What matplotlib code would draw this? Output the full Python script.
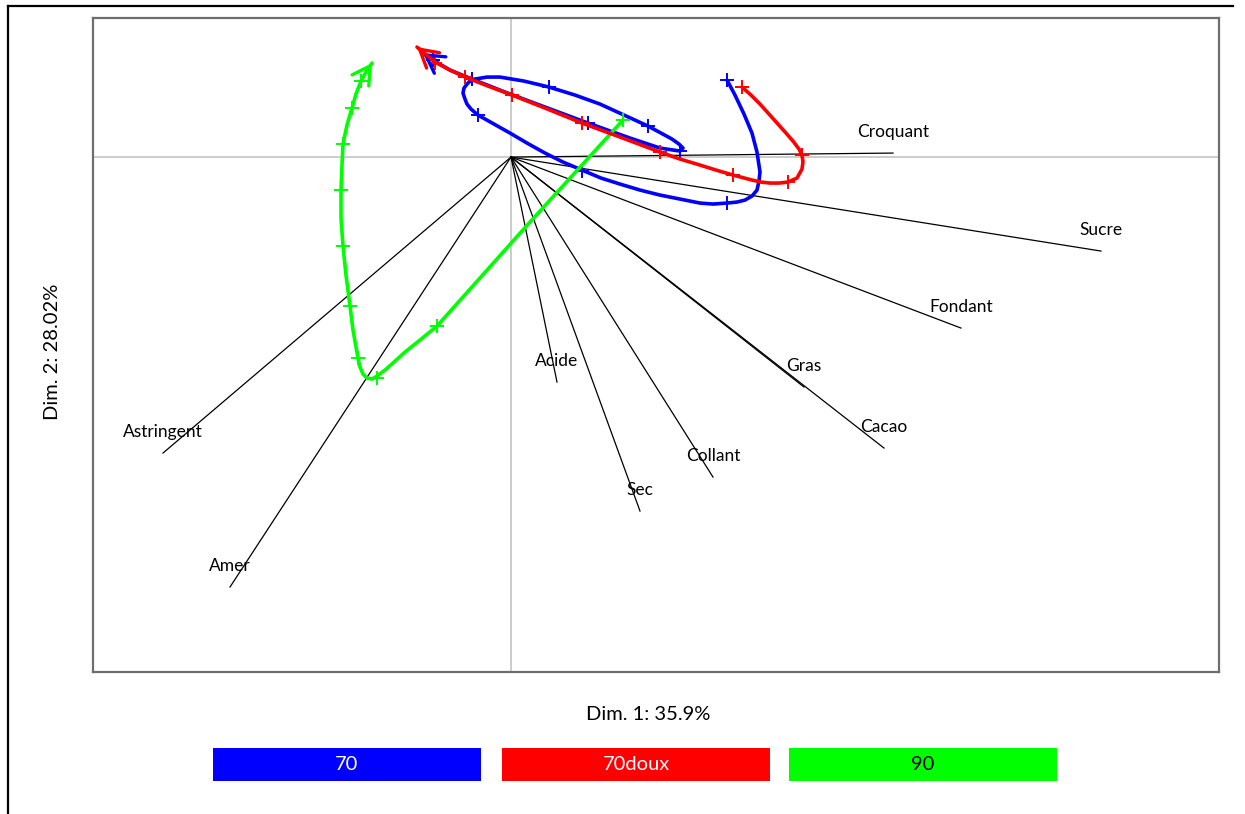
import matplotlib.pyplot as plt
from matplotlib.lines import Line2D
from matplotlib.patches import Rectangle

plt.rcParams["font.family"] = ["Lato", "DejaVu Sans"]

# Sensory attributes: coordinates of each variable on Dim. 1 / Dim. 2
attributes = ["Croquant", "Sucre", "Fondant", "Gras", "Cacao",
              "Acide", "Collant", "Sec", "Astringent", "Amer"]
attr_x = [3.82, 5.90, 4.50, 2.93, 3.73, 0.46, 2.02, 1.29, -3.48, -2.81]
attr_y = [0.04, -0.94, -1.71, -2.30, -2.91, -2.25, -3.20, -3.54, -2.96, -4.30]

# Product trajectories (smoothed path) and the time points on them
products = ["70", "70doux", "90"]
colors = ["#0000ff", "#ff0000", "#00ff00"]

path_70_x = [2.16, 2.24, 2.33, 2.41, 2.46, 2.49, 2.48, 2.46, 2.41, 2.34, 2.26, 2.16,
             2.02, 1.89, 1.69, 1.49, 1.29, 1.09, 0.90, 0.71, 0.52, 0.34, 0.16, -0.01,
             -0.17, -0.33, -0.40, -0.44, -0.46, -0.48, -0.47, -0.44, -0.41, -0.36,
             -0.24, -0.11, 0.13, 0.38, 0.64, 0.89, 1.13, 1.37, 1.50, 1.61, 1.68, 1.72,
             1.69, 1.49, 1.19, 0.77, 0.34, -0.06, -0.39, -0.61, -0.78, -0.88]
path_70_y = [0.77, 0.62, 0.43, 0.24, 0.05, -0.15, -0.24, -0.33, -0.39, -0.43, -0.45,
             -0.46, -0.47, -0.46, -0.42, -0.38, -0.33, -0.27, -0.21, -0.13, -0.05,
             0.04, 0.14, 0.24, 0.33, 0.42, 0.48, 0.53, 0.58, 0.64, 0.69, 0.73, 0.76,
             0.78, 0.80, 0.80, 0.76, 0.70, 0.62, 0.53, 0.42, 0.31, 0.24, 0.18, 0.13,
             0.09, 0.06, 0.09, 0.19, 0.34, 0.50, 0.65, 0.78, 0.87, 0.97, 1.04]
time_70_x = [2.16, 2.16, 0.71, -0.33, -0.39, 0.38, 1.37, 1.69, 0.77, -0.78]
time_70_y = [0.77, -0.46, -0.14, 0.42, 0.78, 0.70, 0.31, 0.06, 0.34, 0.97]

path_70doux_x = [2.31, 2.40, 2.49, 2.58, 2.67, 2.75, 2.82, 2.88, 2.91, 2.92, 2.91,
                 2.86, 2.77, 2.68, 2.59, 2.50, 2.41, 2.22, 2.05, 1.89, 1.69, 1.49,
                 1.09, 0.71, 0.34, 0.01, -0.23, -0.46, -0.61, -0.76, -0.94]
path_70doux_y = [0.70, 0.62, 0.53, 0.43, 0.33, 0.24, 0.16, 0.08, 0.02, -0.05, -0.12,
                 -0.21, -0.25, -0.26, -0.26, -0.25, -0.23, -0.18, -0.13, -0.08, -0.02,
                 0.05, 0.20, 0.34, 0.49, 0.62, 0.71, 0.80, 0.87, 0.95, 1.10]
time_70doux_x = [2.31, 2.91, 2.77, 2.22, 1.49, 0.71, 0.01, -0.46, -0.76]
time_70doux_y = [0.70, 0.02, -0.25, -0.18, 0.05, 0.34, 0.62, 0.80, 0.94]

path_90_x = [1.12, 0.19, -0.74, -0.91, -1.06, -1.17, -1.26, -1.34, -1.39, -1.44,
             -1.48, -1.51, -1.53, -1.58, -1.61, -1.65, -1.68, -1.70, -1.70, -1.69,
             -1.68, -1.64, -1.59, -1.55, -1.50, -1.45, -1.39]
path_90_y = [0.37, -0.65, -1.69, -1.83, -1.95, -2.05, -2.13, -2.19, -2.22, -2.21,
             -2.17, -2.10, -2.01, -1.73, -1.49, -1.18, -0.89, -0.61, -0.33, -0.08,
             0.13, 0.32, 0.49, 0.63, 0.76, 0.85, 0.94]
time_90_x = [1.12, -0.74, -1.34, -1.53, -1.61, -1.68, -1.70, -1.68, -1.59, -1.50]
time_90_y = [0.37, -1.69, -2.21, -2.01, -1.49, -0.89, -0.33, 0.13, 0.49, 0.76]

paths = [(path_70_x, path_70_y, time_70_x, time_70_y),
         (path_90_x, path_90_y, time_90_x, time_90_y),
         (path_70doux_x, path_70doux_y, time_70doux_x, time_70doux_y)]
path_colors = [colors[0], colors[2], colors[1]]

x_label = "Dim. 1: 35.9%"
y_label = "Dim. 2: 28.02%"

fig = plt.figure(figsize=(12.45, 8.14), dpi=100)
ax = fig.add_axes([0.0747, 0.1744, 0.9044, 0.8034])
ax.set_xlim(-4.18, 7.08)
ax.set_ylim(-5.15, 1.39)

ax.axhline(0, color="#c8c8c8", lw=1.3, zorder=1)
ax.axvline(0, color="#c8c8c8", lw=1.3, zorder=1)

# attribute vectors from the origin
for name, vx, vy in zip(attributes, attr_x, attr_y):
    ax.plot([0, vx], [0, vy], color="black", lw=0.9, zorder=2)
    ax.text(vx, vy + 0.21, name, ha="center", va="center", fontsize=12.5, zorder=5)

# trajectories with time markers and end arrows
for (px, py, tx, ty), c in zip(paths, path_colors):
    ax.plot(px, py, color=c, lw=2.6, solid_joinstyle="round",
            solid_capstyle="round", zorder=3)
    ax.plot(tx, ty, ls="none", marker="+", ms=10, mew=1.4, color=c, zorder=3)
    ax.annotate("", xy=(px[-1], py[-1]), xytext=(px[-2], py[-2]),
                arrowprops=dict(arrowstyle="->,head_length=0.7,head_width=0.4",
                                color=c, lw=2.4, mutation_scale=18,
                                shrinkA=0, shrinkB=0),
                zorder=4)

ax.set_xticks([])
ax.set_yticks([])
for sp in ax.spines.values():
    sp.set_color("#6e6e6e")
    sp.set_linewidth(1.6)

fig.text(648 / 1245, 1 - 714 / 814, x_label, ha="center", va="center", fontsize=14.5)
fig.text(52 / 1245, 1 - 352 / 814, y_label, ha="center", va="center",
         rotation=90, fontsize=14.5)

# colour legend boxes under the plot
box_left = [213, 502, 789]
text_colors = ["white", "white", "black"]
for name, c, left, tc in zip(products, colors, box_left, text_colors):
    fig.patches.append(Rectangle((left / 1245, 1 - 781 / 814), 268 / 1245, 33 / 814,
                                 transform=fig.transFigure, facecolor=c,
                                 edgecolor="none"))
    fig.text((left + 134) / 1245, 1 - 765 / 814, name, ha="center", va="center",
             color=tc, fontsize=14.5)

# outer frame lines
fig.add_artist(Line2D([8 / 1245, 8 / 1245], [0, 1 - 6 / 814],
                      transform=fig.transFigure, color="black", lw=1.6))
fig.add_artist(Line2D([8 / 1245, 1233 / 1245], [1 - 6 / 814, 1 - 6 / 814],
                      transform=fig.transFigure, color="black", lw=1.6))

fig.savefig("out.png", dpi=100)
